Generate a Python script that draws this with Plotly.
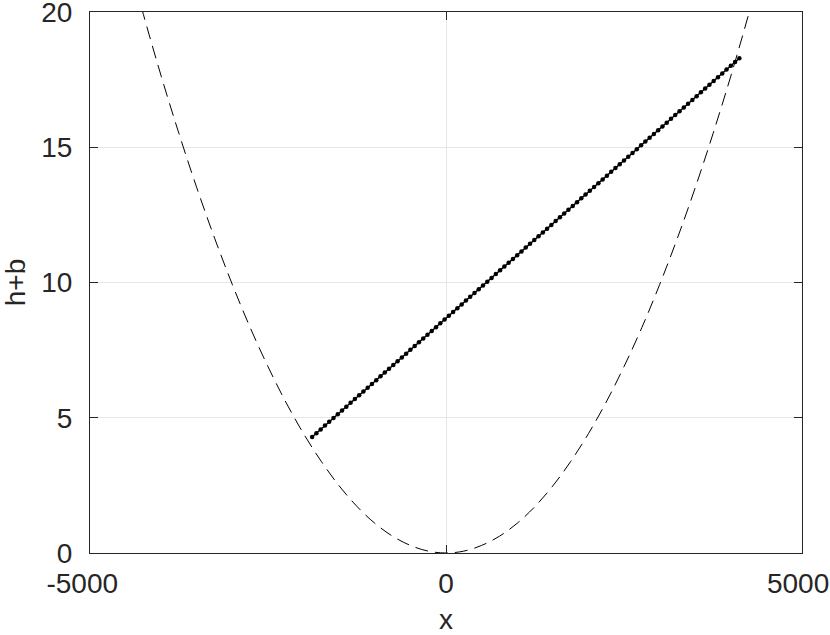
import plotly.graph_objects as go

# dashed parabola
curve_x = [-4500, -4250, -4000, -3750, -3500, -3250, -3000, -2750, -2500, -2250,
           -2000, -1750, -1500, -1250, -1000, -750, -500, -250, 0,
           250, 500, 750, 1000, 1250, 1500, 1750, 2000, 2250, 2500,
           2750, 3000, 3250, 3500, 3750, 4000, 4250, 4500]
curve_y = [22.32, 19.91, 17.63, 15.50, 13.50, 11.64, 9.92, 8.33, 6.89, 5.58,
           4.41, 3.38, 2.48, 1.72, 1.10, 0.62, 0.28, 0.07, 0.0,
           0.07, 0.28, 0.62, 1.10, 1.72, 2.48, 3.38, 4.41, 5.58, 6.89,
           8.33, 9.92, 11.64, 13.50, 15.50, 17.63, 19.91, 22.32]

# dotted solution line
sol_x = [-1880, -1820, -1760, -1700, -1640, -1580, -1520, -1460, -1400, -1340,
         -1280, -1220, -1160, -1100, -1040, -980, -920, -860, -800, -740,
         -680, -620, -560, -500, -440, -380, -320, -260, -200, -140,
         -80, -20, 40, 100, 160, 220, 280, 340, 400, 460,
         520, 580, 640, 700, 760, 820, 880, 940, 1000, 1060,
         1120, 1180, 1240, 1300, 1360, 1420, 1480, 1540, 1600, 1660,
         1720, 1780, 1840, 1900, 1960, 2020, 2080, 2140, 2200, 2260,
         2320, 2380, 2440, 2500, 2560, 2620, 2680, 2740, 2800, 2860,
         2920, 2980, 3040, 3100, 3160, 3220, 3280, 3340, 3400, 3460,
         3520, 3580, 3640, 3700, 3760, 3820, 3880, 3940, 4000, 4060,
         4120]
sol_y = [4.29, 4.43, 4.57, 4.71, 4.85, 4.99, 5.13, 5.27, 5.41, 5.55,
         5.69, 5.83, 5.97, 6.11, 6.25, 6.39, 6.53, 6.67, 6.81, 6.95,
         7.09, 7.23, 7.37, 7.51, 7.65, 7.79, 7.93, 8.07, 8.21, 8.35,
         8.49, 8.63, 8.77, 8.91, 9.05, 9.19, 9.33, 9.47, 9.61, 9.75,
         9.89, 10.03, 10.17, 10.31, 10.45, 10.59, 10.73, 10.87, 11.01, 11.15,
         11.29, 11.43, 11.57, 11.71, 11.85, 11.99, 12.13, 12.27, 12.41, 12.55,
         12.69, 12.83, 12.97, 13.11, 13.25, 13.39, 13.53, 13.67, 13.81, 13.95,
         14.09, 14.23, 14.37, 14.51, 14.65, 14.79, 14.93, 15.07, 15.21, 15.35,
         15.49, 15.63, 15.77, 15.91, 16.05, 16.19, 16.33, 16.47, 16.61, 16.75,
         16.89, 17.03, 17.17, 17.31, 17.45, 17.59, 17.73, 17.87, 18.01, 18.15,
         18.29]

x_ticks = [-5000, 0, 5000]
# trailing non-breaking spaces nudge the end labels left, as in the original
x_labels = ["-5000\u00a0\u00a0", "0", "5000\u00a0"]
y_ticks = [0, 5, 10, 15, 20]
y_labels = ["0", "5", "10", "15", "20"]

fig = go.Figure()

fig.add_trace(go.Scatter(
    x=curve_x, y=curve_y,
    mode="lines",
    line=dict(color="black", width=1, dash="13px,7px", shape="spline"),
    showlegend=False
))

fig.add_trace(go.Scatter(
    x=sol_x, y=sol_y,
    mode="lines+markers",
    line=dict(color="black", width=1.5),
    marker=dict(color="black", size=4.5),
    showlegend=False
))

axis_common = dict(
    showline=True, linecolor="#262626", linewidth=1, mirror="ticks",
    ticks="inside", ticklen=8, tickcolor="#262626",
    showgrid=True, gridcolor="#e6e6e6", gridwidth=1,
    zeroline=False, automargin=False, ticklabeloverflow="allow",
    tickfont=dict(size=28, color="#262626"),
)

fig.update_layout(
    width=830, height=635,
    margin=dict(l=90, r=28, t=12, b=82),
    plot_bgcolor="white", paper_bgcolor="white",
    font=dict(family="Liberation Sans, Arial, sans-serif", color="#262626"),
    xaxis=dict(range=[-5000, 5000], tickvals=x_ticks, ticktext=x_labels,
               ticklabelstandoff=5,
               title=dict(text="x", font=dict(size=28), standoff=12),
               **axis_common),
    yaxis=dict(range=[0, 20], tickvals=y_ticks, ticktext=y_labels,
               ticklabelstandoff=11,
               title=dict(text="h+b", font=dict(size=28), standoff=26),
               **axis_common),
)

# drop the default page margin so the figure fills the window
fig.write_html("out.html", config={"displayModeBar": False},
               post_script="document.body.style.margin='0';")
